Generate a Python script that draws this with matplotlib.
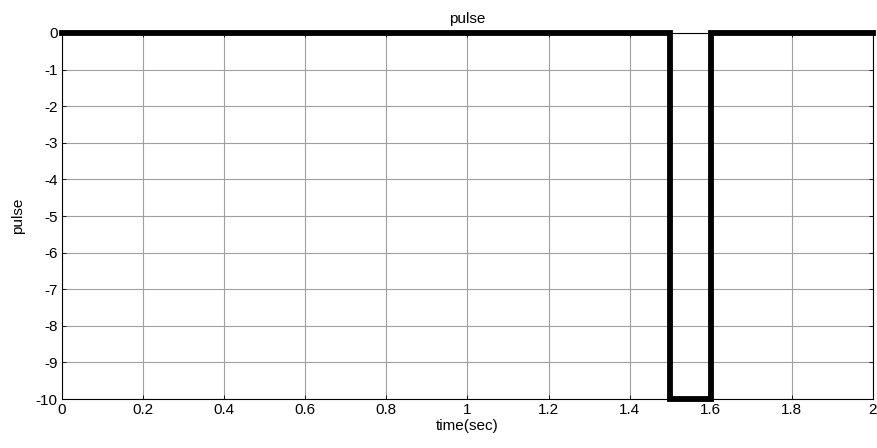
import matplotlib
matplotlib.use("Agg")
import matplotlib.pyplot as plt
import numpy as np

plt.rcParams['font.family'] = ['Liberation Sans', 'DejaVu Sans']

time_sec = [0.0, 1.5, 1.5, 1.6, 1.6, 2.0]
pulse = [0, 0, -10, -10, 0, 0]
xticks = [0, 0.2, 0.4, 0.6, 0.8, 1, 1.2, 1.4, 1.6, 1.8, 2]
xticklabels = ['0', '0.2', '0.4', '0.6', '0.8', '1', '1.2', '1.4', '1.6', '1.8', '2']
yticks = list(range(0, -11, -1))
yticklabels = [str(v) for v in yticks]

fs = 11
fig = plt.figure(figsize=(8.78, 4.48), dpi=100)
ax = fig.add_axes([62/878, 1-399/448, (873-62)/878, (399-33)/448])
ax.plot(time_sec, pulse, color='black', lw=4.2, solid_joinstyle='miter', clip_on=False, zorder=3)
ax.set_xlim(0, 2)
ax.set_ylim(-10, 0)
ax.set_xticks(xticks)
ax.set_xticklabels(xticklabels)
ax.set_yticks(yticks)
ax.set_yticklabels(yticklabels)
ax.grid(True, color='#a0a0a0', lw=0.8)
ax.tick_params(direction='in', length=3, width=0.6, labelsize=fs, top=True, right=True, pad=3)
for s in ax.spines.values():
    s.set_linewidth(0.8)
ax.set_title('pulse', fontsize=fs, pad=7)
ax.set_xlabel('time(sec)', fontsize=fs, labelpad=1)
ax.set_ylabel('pulse', fontsize=fs, labelpad=8)
fig.savefig('out.png', dpi=100)
